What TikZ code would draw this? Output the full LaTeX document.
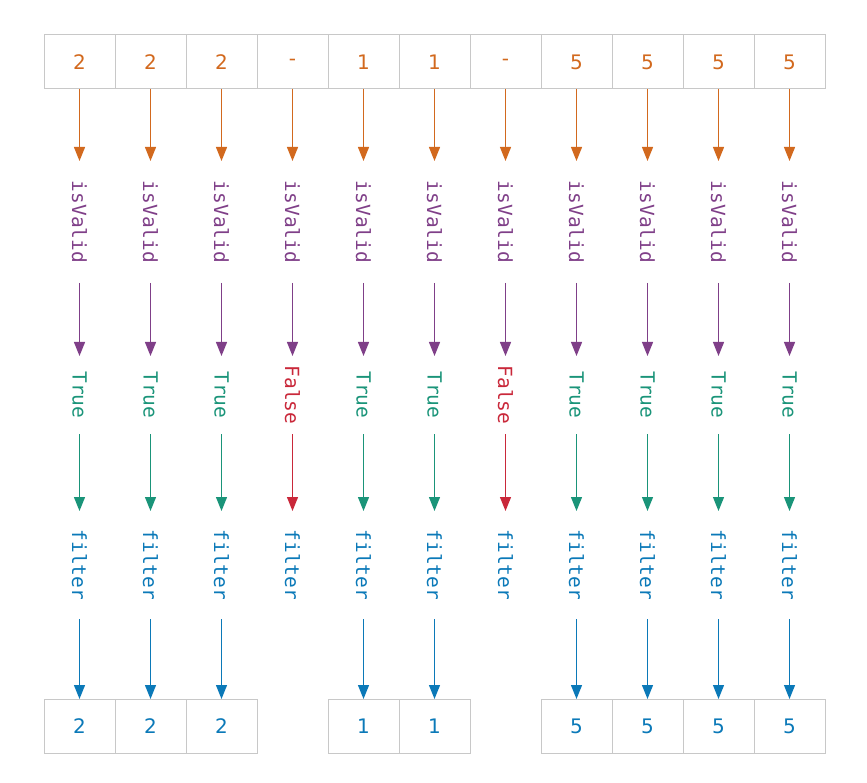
\documentclass[tikz,border=0pt]{standalone}
\usepackage{fontspec}
\setmainfont{DejaVu Sans}
\newfontfamily\monof{DejaVu Sans Mono}
\usetikzlibrary{arrows.meta}
\definecolor{corange}{HTML}{D2691E}
\definecolor{cpurple}{HTML}{7F3F88}
\definecolor{cgreen}{HTML}{1A9479}
\definecolor{cred}{HTML}{C9283A}
\definecolor{cblue}{HTML}{0B79B8}
\definecolor{cgray}{HTML}{C8C8C8}
\tikzset{
  cell/.style={draw=cgray, line width=1pt, minimum width=71pt, minimum height=54pt, inner sep=0pt, outer sep=0pt, font=\fontsize{20}{24}\selectfont},
  lab/.style={rotate=-90, inner sep=0pt, outer sep=0pt, minimum height=16pt, font=\monof\fontsize{19.5}{23}\selectfont},
  arr/.style={line width=1.2pt, -{Triangle[length=14pt,width=11pt]}}
}
\begin{document}
\begin{tikzpicture}[x=1pt,y=-1pt]
\useasboundingbox (0,0) rectangle (867,783);
\foreach \i/\v/\ok in {1/2/1,2/2/1,3/2/1,4/-/0,5/1/1,6/1/1,7/-/0,8/5/1,9/5/1,10/5/1,11/5/1}{
  \pgfmathsetmacro{\xx}{79.5+71*(\i-1)}
  \node[cell, text=corange] (t\i) at (\xx,62) {\v};
  \node[lab, text=cpurple, minimum width=122pt] (v\i) at (\xx,222) {isValid};
  \draw[arr, corange] (t\i.south) -- (v\i.west);
  \ifnum\ok=1
    \node[lab, text=cgreen, minimum width=78pt] (r\i) at (\xx,395) {True};
    \draw[arr, cpurple] (v\i.east) -- (r\i.west);
    \node[lab, text=cblue, minimum width=108pt] (f\i) at (\xx,565) {filter};
    \draw[arr, cgreen] (r\i.east) -- (f\i.west);
    \node[cell, text=cblue] (o\i) at (\xx,726) {\v};
    \draw[arr, cblue] (f\i.east) -- (o\i.north);
  \else
    \node[lab, text=cred, minimum width=78pt] (r\i) at (\xx,395) {False};
    \draw[arr, cpurple] (v\i.east) -- (r\i.west);
    \node[lab, text=cblue, minimum width=108pt] (f\i) at (\xx,565) {filter};
    \draw[arr, cred] (r\i.east) -- (f\i.west);
  \fi
}
\end{tikzpicture}
\end{document}
